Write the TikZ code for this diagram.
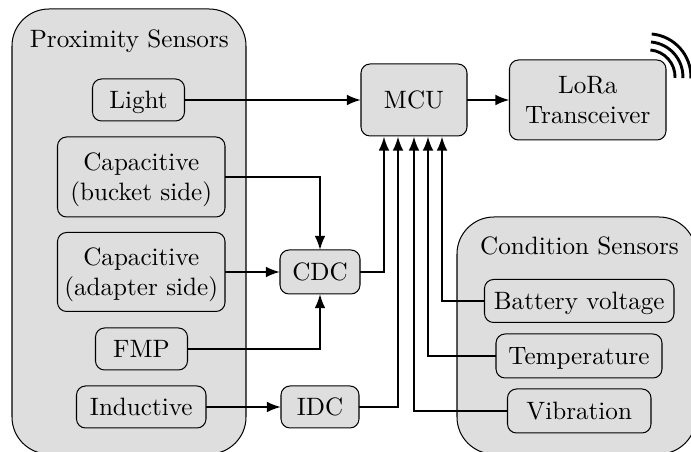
\documentclass[tikz,border=0pt]{standalone}
\usetikzlibrary{arrows.meta}
\tikzset{
 x=0.398pt,y=-0.398pt,
 panel/.style={draw,fill=black!13,line width=0.4pt,rounded corners=14.7pt},
 block/.style={draw,fill=black!13,line width=0.4pt,rounded corners=3.6pt},
 conn/.style={line width=0.85pt,-{Latex[length=5.6pt,width=4.3pt]}},
 wave/.style={line width=1.15pt},
 title/.style={inner sep=0pt,align=center}
}
\newcommand{\st}{\rule[-2pt]{0pt}{11pt}}
\newcommand{\blk}[6]{%
 \path[block] (#2,#3) rectangle (#4,#5);
 \node[inner sep=0pt,outer sep=0pt,align=center,minimum width={(#4-#2)*0.398pt},minimum height={(#5-#3)*0.398pt}] (#1) at ({(#2+#4)/2},{(#3+#5)/2}) {#6};}
\begin{document}
\begin{tikzpicture}
\useasboundingbox (0,0) rectangle (691,452);
\clip (0,0) rectangle (691,452);
\path[panel] (12,9) rectangle (246,454);
\path[panel] (457,217) rectangle (696,454);
\node[title] (prox) at (129.3,38.5) {\st Proximity Sensors};
\node[title] (cond) at (579.5,246) {\st Condition Sensors};
\coordinate (w1) at (650.4,50);
\coordinate (w2) at (651,42);
\coordinate (w3) at (651.7,34);
\draw[wave] (w1) arc[start angle=-85,end angle=2,radius=27];
\draw[wave] (w2) arc[start angle=-85,end angle=2,radius=35];
\draw[wave] (w3) arc[start angle=-85,end angle=2,radius=43];
\blk{light}{92.5}{79}{184.5}{121}{\st Light}
\blk{capb}{57.5}{137}{225}{217}{\st Capacitive\\\st (bucket side)}
\blk{capa}{57.5}{232.5}{225}{311.5}{\st Capacitive\\\st (adapter side)}
\blk{fmp}{95.5}{328}{187.5}{370}{\st FMP}
\blk{ind}{76.5}{386}{206}{428}{\st Inductive}
\blk{cdc}{280}{250}{360}{294}{\st CDC}
\blk{idc}{281}{386}{359}{428}{\st IDC}
\blk{mcu}{361}{64}{467}{136}{\st MCU}
\blk{lora}{509.5}{60}{666}{140}{\st LoRa\\\st Transceiver}
\blk{bat}{484.5}{279.5}{674}{322.5}{\st Battery voltage}
\blk{temp}{496}{334}{662}{378}{\st Temperature}
\blk{vib}{507.5}{389}{651}{433}{\st Vibration}
\draw[conn] (light.east) -- (light.east -| mcu.west);
\draw[conn] (mcu.east) -- (mcu.east -| lora.west);
\draw[conn] (capb.east) -| (cdc.north);
\draw[conn] (capa.east) -- (capa.east -| cdc.west);
\draw[conn] (fmp.east) -| (cdc.south);
\draw[conn] (ind.east) -- (ind.east -| idc.west);
\coordinate (a1) at (384,136.5);
\coordinate (a2) at (398,136.5);
\coordinate (a3) at (414,136.5);
\coordinate (a4) at (428,136.5);
\coordinate (a5) at (442,136.5);
\draw[conn] (cdc.east) -| (a1);
\draw[conn] (idc.east) -| (a2);
\draw[conn] (vib.west) -| (a3);
\draw[conn] (temp.west) -| (a4);
\draw[conn] (bat.west) -| (a5);
\end{tikzpicture}
\end{document}
